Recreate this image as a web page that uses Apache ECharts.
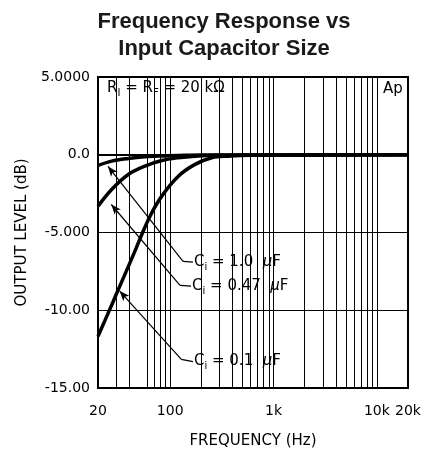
<!DOCTYPE html>
<html><head><meta charset="utf-8">
<script src="https://cdn.jsdelivr.net/npm/echarts@6/dist/echarts.min.js"></script>
<style>html,body{margin:0;padding:0;background:#fff}#c{width:435px;height:462px}</style>
</head><body><div id="c"></div>
<script>
// ---- data ----
const freq1 = [20, 27.1, 39.3, 57, 82.8, 120, 200, 20000];
const level1 = [-0.69, -0.41, -0.24, -0.13, -0.08, -0.05, -0.02, 0];
const freq047 = [20, 27.1, 39.3, 57, 82.8, 119.8, 173.8, 300, 20000];
const level047 = [-3.31, -2.23, -1.27, -0.73, -0.37, -0.19, -0.09, -0.03, 0];
const freq01 = [20, 23.2, 28, 31.2, 37.5, 45, 51, 63.7, 82.8, 119.8, 173.8, 251.9, 362.8, 600, 20000];
const level01 = [-11.67, -10.7, -9.45, -8.72, -7.5, -6.28, -5.4, -3.95, -2.66, -1.38, -0.62, -0.19, -0.09, -0.03, 0];
const gridFreqs = [30, 40, 60, 70, 80, 90, 100, 200, 300, 400, 500, 600, 700, 800, 900, 1000,
  2000, 3000, 4000, 5000, 6000, 7000, 8000, 9000, 10000];
const xTickValues = [20, 100, 1000, 10000, 20000];
const xTickLabels = ['20', '100', '1k', '10k', '20k'];
const yTickValues = [-15, -10, -5, 0, 5];
const yTickLabels = ['-15.00', '-10.00', '-5.000', '0.0', '5.0000'];
const curveNames = ['1.0', '0.47', '0.1'];

const pairs = (xs, ys) => xs.map((x, i) => [x, ys[i]]);
const FONT = 'DejaVu Sans';
const subRich = {
  c: {fontFamily: FONT, fontSize: 15, color: '#000', verticalAlign: 'middle', lineHeight: 20},
  s: {fontFamily: FONT, fontSize: 10, color: '#000', verticalAlign: 'bottom', lineHeight: 20},
  m: {fontFamily: FONT, fontSize: 15, color: '#000', fontStyle: 'italic', verticalAlign: 'middle', lineHeight: 20}
};
const capLabel = v => '{c|C}{s|i}{c| = ' + v + '  }{m|µ}{c|F}';

// annotation leader lines: [tip, elbow, end] in data space (Hz, dB)
const leaders = [
  [[25.0, -0.75], [133, -6.86], [166, -6.9]],
  [[26.9, -3.2], [124.4, -8.4], [159, -8.45]],
  [[32.4, -8.77], [128.1, -13.16], [166, -13.3]]
];

const chart = echarts.init(document.getElementById('c'), null, {renderer: 'canvas'});
const lineStyle = {color: '#000', width: 3.5};
chart.setOption({
  animation: false,
  backgroundColor: '#fff',
  title: {
    text: 'Frequency Response vs\nInput Capacitor Size',
    left: 219, top: 3, textAlign: 'center',
    textStyle: {fontFamily: 'Liberation Sans', fontWeight: 'bold', fontSize: 22, lineHeight: 27, color: '#1a1a1a'}
  },
  grid: {left: 98, top: 77, right: 27, bottom: 74, show: true, borderColor: '#000', borderWidth: 2, backgroundColor: 'transparent'},
  xAxis: {
    type: 'log', logBase: 10, min: 20, max: 20000,
    name: 'FREQUENCY (Hz)', nameLocation: 'middle', nameGap: 46,
    nameTextStyle: {fontFamily: FONT, fontSize: 15, color: '#000'},
    axisLine: {show: true, lineStyle: {color: '#000', width: 2}},
    axisTick: {show: false},
    splitLine: {show: false},
    axisLabel: {
      customValues: xTickValues, margin: 16, fontFamily: FONT, fontSize: 14, color: '#000',
      formatter: v => { const i = xTickValues.findIndex(t => Math.abs(t - v) / t < 1e-6); return i >= 0 ? xTickLabels[i] : ''; }
    }
  },
  yAxis: {
    type: 'value', min: -15, max: 5, interval: 5,
    name: 'OUTPUT LEVEL (dB)', nameLocation: 'middle', nameGap: 68,
    nameTextStyle: {fontFamily: FONT, fontSize: 15, color: '#000'},
    axisLine: {show: true, lineStyle: {color: '#000', width: 2}},
    axisTick: {show: false},
    splitLine: {show: true, lineStyle: {color: '#000', width: 1}},
    axisLabel: {
      margin: 8, fontFamily: FONT, fontSize: 14, color: '#000',
      formatter: v => { const i = yTickValues.indexOf(Math.round(v)); return i >= 0 ? yTickLabels[i] : ''; }
    }
  },
  graphic: [
    {type: 'text', left: 107, top: 81, style: {
      text: '{c|R}{s|I}{c| = R}{s|F}{c| = 20 kΩ}', rich: subRich}},
    {type: 'text', left: 383, top: 82, style: {text: 'Ap', fontFamily: FONT, fontSize: 15, fill: '#000'}}
  ],
  series: [
    {
      name: 'grid', type: 'line', data: [], z: 1, silent: true,
      markLine: {
        silent: true, symbol: ['none', 'none'], animation: false,
        label: {show: false},
        lineStyle: {color: '#000', width: 1, type: 'solid'},
        data: gridFreqs.map(f => ({xAxis: f}))
      }
    },
    {name: curveNames[0], type: 'line', data: pairs(freq1, level1), showSymbol: false, smooth: 0.35, lineStyle, z: 5},
    {name: curveNames[1], type: 'line', data: pairs(freq047, level047), showSymbol: false, smooth: 0.35, lineStyle, z: 5},
    {name: curveNames[2], type: 'line', data: pairs(freq01, level01), showSymbol: false, smooth: 0.35, lineStyle, z: 5},
    {
      name: 'annotations', type: 'line', data: [], z: 6, silent: true,
      markLine: {
        silent: true, animation: false, label: {show: false},
        lineStyle: {color: '#000', width: 1.2, type: 'solid'},
        data: leaders.flatMap(l => [
          [{coord: l[0], symbol: 'arrow', symbolSize: [6, 10]}, {coord: l[1], symbol: 'none'}],
          [{coord: l[1], symbol: 'none'}, {coord: l[2], symbol: 'none'}]
        ])
      },
      markPoint: {
        silent: true, animation: false, symbol: 'circle', symbolSize: 0,
        label: {show: true, position: 'right', distance: 1, rich: subRich},
        data: leaders.map((l, i) => ({coord: l[2], label: {formatter: capLabel(curveNames[i])}}))
      }
    }
  ]
});
</script></body></html>
